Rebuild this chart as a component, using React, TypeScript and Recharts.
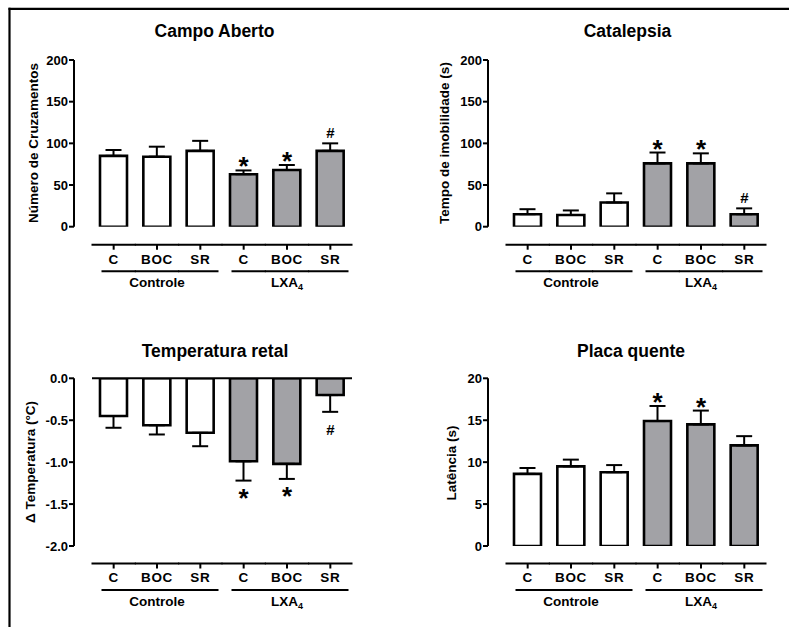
import React from 'react';
import { ComposedChart, Bar, Cell, ErrorBar, Line, XAxis, YAxis, ReferenceLine } from 'recharts';

const FONT = '"Liberation Sans", Arial, Helvetica, sans-serif';
const GRAY = '#a2a2a6';
const WHITE = '#ffffff';
const PAD = 18; // gap between y axis and first category band

// categories / labels
const categories = ['C-ctl', 'BOC-ctl', 'SR-ctl', 'C-lxa', 'BOC-lxa', 'SR-lxa'];
const tickLabels = ['C', 'BOC', 'SR', 'C', 'BOC', 'SR'];

// Campo Aberto
const campoMean = [85, 84, 91, 63, 68, 91];
const campoErr = [7, 12, 12, 4.5, 6, 9];
const campoMarks = ['', '', '', '*', '*', '#'];
const campoTicks = [0, 50, 100, 150, 200];

// Catalepsia
const catMean = [15, 14, 29, 76, 76, 15];
const catErr = [6, 5.5, 11, 13, 12, 7];
const catMarks = ['', '', '', '*', '*', '#'];
const catTicks = [0, 50, 100, 150, 200];

// Temperatura retal
const tempMean = [-0.45, -0.56, -0.65, -0.99, -1.02, -0.2];
const tempErr = [0.14, 0.11, 0.16, 0.23, 0.18, 0.2];
const tempMarks = ['', '', '', '*', '*', '#'];
const tempTicks = [0, -0.5, -1.0, -1.5, -2.0];

// Placa quente
const placaMean = [8.6, 9.5, 8.8, 14.9, 14.5, 12.0];
const placaErr = [0.7, 0.8, 0.85, 1.8, 1.65, 1.1];
const placaMarks = ['', '', '', '*', '*', ''];
const placaTicks = [0, 5, 10, 15, 20];

function GroupTick(props: any) {
  const { x, y, index, band, gap } = props;
  const half = band / 2;
  const ly = y + gap;
  const gy = ly + 26.5;
  let gx1 = x - half;
  let gx2 = x + half;
  if (index % 3 === 0) gx1 += 10;
  if (index % 3 === 2) gx2 -= 4;
  return (
    <g>
      <line x1={x - half - 0.5} x2={x + half + 0.5} y1={ly} y2={ly} stroke="#000" strokeWidth={2} />
      <line x1={x} x2={x} y1={ly} y2={ly + 5} stroke="#000" strokeWidth={2} />
      <text x={x} y={ly + 18.8} textAnchor="middle" fontFamily={FONT} fontWeight="bold" fontSize={13.5} letterSpacing={0.6} fill="#000">
        {tickLabels[index]}
      </text>
      <line x1={gx1 - 0.5} x2={gx2 + 0.5} y1={gy} y2={gy} stroke="#000" strokeWidth={2} />
      {index === 1 && (
        <text x={x} y={ly + 42.3} textAnchor="middle" fontFamily={FONT} fontWeight="bold" fontSize={13.5} fill="#000">
          Controle
        </text>
      )}
      {index === 4 && (
        <text x={x} y={ly + 42.3} textAnchor="middle" fontFamily={FONT} fontWeight="bold" fontSize={13.5} fill="#000">
          LXA<tspan fontSize={9} dy={3}>4</tspan>
        </text>
      )}
    </g>
  );
}

const renderMark = (negative: boolean) => (p: any) => {
  const { cx, cy, payload, index } = p;
  if (!payload || !payload.mark || cy == null || isNaN(cy)) return <g key={`m-${index}`} />;
  const star = payload.mark === '*';
  const dy = negative ? (star ? 26 : 23) : (star ? 5 : -5);
  return (
    <text key={`m-${index}`} x={cx} y={cy + dy} textAnchor="middle" fontFamily={FONT} fontWeight="bold" fontSize={star ? 26 : 15} fill="#000">
      {payload.mark}
    </text>
  );
};

function Panel(props: any) {
  const { left, top, width, height, yAxisWidth, margin, means, errs, marks, domain, ticks, fmt, negative, gap } = props;
  const plotLeft = margin.left + yAxisWidth;
  const plotRight = width - margin.right;
  const band = (plotRight - plotLeft - PAD) / categories.length;
  const data = categories.map((cat, i) => ({
    cat,
    mean: means[i],
    err: negative ? [errs[i], 0] : [0, errs[i]],
    markY: marks[i] ? (negative ? means[i] - errs[i] : means[i] + errs[i]) : null,
    mark: marks[i],
  }));
  return (
    <div style={{ position: 'absolute', left, top }}>
      <ComposedChart width={width} height={height} data={data} margin={margin}>
        <XAxis
          dataKey="cat"
          padding={{ left: PAD, right: 0 }}
          axisLine={false}
          tickLine={false}
          tickSize={0}
          tickMargin={0}
          height={60}
          interval={0}
          tick={(p: any) => <GroupTick {...p} band={band} gap={gap} />}
        />
        <YAxis
          width={yAxisWidth}
          domain={domain}
          ticks={ticks}
          tickFormatter={fmt}
          interval={0}
          allowDataOverflow
          axisLine={{ stroke: '#000', strokeWidth: 2 }}
          tickLine={{ stroke: '#000', strokeWidth: 2 }}
          tickSize={5}
          tickMargin={1}
          tick={{ fill: '#000', fontSize: 13, fontWeight: 'bold', fontFamily: FONT }}
        />
        {negative && (
          <ReferenceLine
            y={0}
            stroke="#000"
            strokeWidth={2}
            shape={(s: any) => <line x1={s.x1 + PAD} y1={s.y1} x2={s.x2} y2={s.y2} stroke="#000" strokeWidth={2} />}
          />
        )}
        <Bar dataKey="mean" barSize={27} stroke="#000" strokeWidth={2.6} isAnimationActive={false}>
          {data.map((d, i) => (
            <Cell key={`c-${i}`} fill={i < 3 ? WHITE : GRAY} />
          ))}
          <ErrorBar dataKey="err" width={8} stroke="#000" strokeWidth={2} direction="y" isAnimationActive={false} />
        </Bar>
        <Line dataKey="markY" stroke="none" dot={renderMark(negative)} activeDot={false} isAnimationActive={false} legendType="none" />
      </ComposedChart>
    </div>
  );
}

const intFmt = (v: number) => String(v);
const oneDec = (v: number) => v.toFixed(1);

export default function App() {
  const topMargin = { top: 60, right: 48, bottom: 23.3, left: 0 };
  const topMarginR = { top: 60, right: 23, bottom: 23.3, left: 0 };
  const botMargin = { top: 68.3, right: 48, bottom: 21, left: 0 };
  const botMarginR = { top: 68.3, right: 23, bottom: 21, left: 0 };
  const titleStyle = { fontFamily: FONT, fontWeight: 'bold' as const, fontSize: 17.5 };
  const yLabStyle = { fontFamily: FONT, fontWeight: 'bold' as const, fontSize: 13.5 };
  return (
    <div style={{ position: 'absolute', left: 0, top: 0, width: 789, height: 627, background: '#fff', overflow: 'hidden' }}>
      <Panel left={0} top={0} width={400} height={310} yAxisWidth={74} margin={topMargin}
        means={campoMean} errs={campoErr} marks={campoMarks} domain={[0, 200]} ticks={campoTicks} fmt={intFmt} negative={false} gap={18} />
      <Panel left={400} top={0} width={389} height={310} yAxisWidth={88} margin={topMarginR}
        means={catMean} errs={catErr} marks={catMarks} domain={[0, 200]} ticks={catTicks} fmt={intFmt} negative={false} gap={18} />
      <Panel left={0} top={310} width={400} height={317} yAxisWidth={74} margin={botMargin}
        means={tempMean} errs={tempErr} marks={tempMarks} domain={[-2, 0]} ticks={tempTicks} fmt={oneDec} negative={true} gap={17.5} />
      <Panel left={400} top={310} width={389} height={317} yAxisWidth={88} margin={botMarginR}
        means={placaMean} errs={placaErr} marks={placaMarks} domain={[0, 20]} ticks={placaTicks} fmt={intFmt} negative={false} gap={17.5} />
      <svg width={789} height={627} style={{ position: 'absolute', left: 0, top: 0, pointerEvents: 'none' }}>
        <line x1={8.5} x2={789} y1={8.8} y2={8.8} stroke="#000" strokeWidth={2.2} />
        <line x1={9.5} x2={9.5} y1={7.7} y2={627} stroke="#000" strokeWidth={2.2} />
        <text x={214.5} y={37} textAnchor="middle" {...titleStyle}>Campo Aberto</text>
        <text x={627.5} y={37} textAnchor="middle" {...titleStyle}>Catalepsia</text>
        <text x={215} y={356.5} textAnchor="middle" {...titleStyle}>Temperatura retal</text>
        <text x={631} y={356.5} textAnchor="middle" {...titleStyle}>Placa quente</text>
        <text x={37.5} y={143} textAnchor="middle" transform="rotate(-90 37.5 143)" {...yLabStyle}>Número de Cruzamentos</text>
        <text x={449} y={143} textAnchor="middle" transform="rotate(-90 449 143)" {...yLabStyle}>Tempo de imobilidade (s)</text>
        <text x={35} y={462} textAnchor="middle" transform="rotate(-90 35 462)" {...yLabStyle}>Δ Temperatura (°C)</text>
        <text x={455.5} y={463} textAnchor="middle" transform="rotate(-90 455.5 463)" {...yLabStyle}>Latência (s)</text>
      </svg>
    </div>
  );
}
